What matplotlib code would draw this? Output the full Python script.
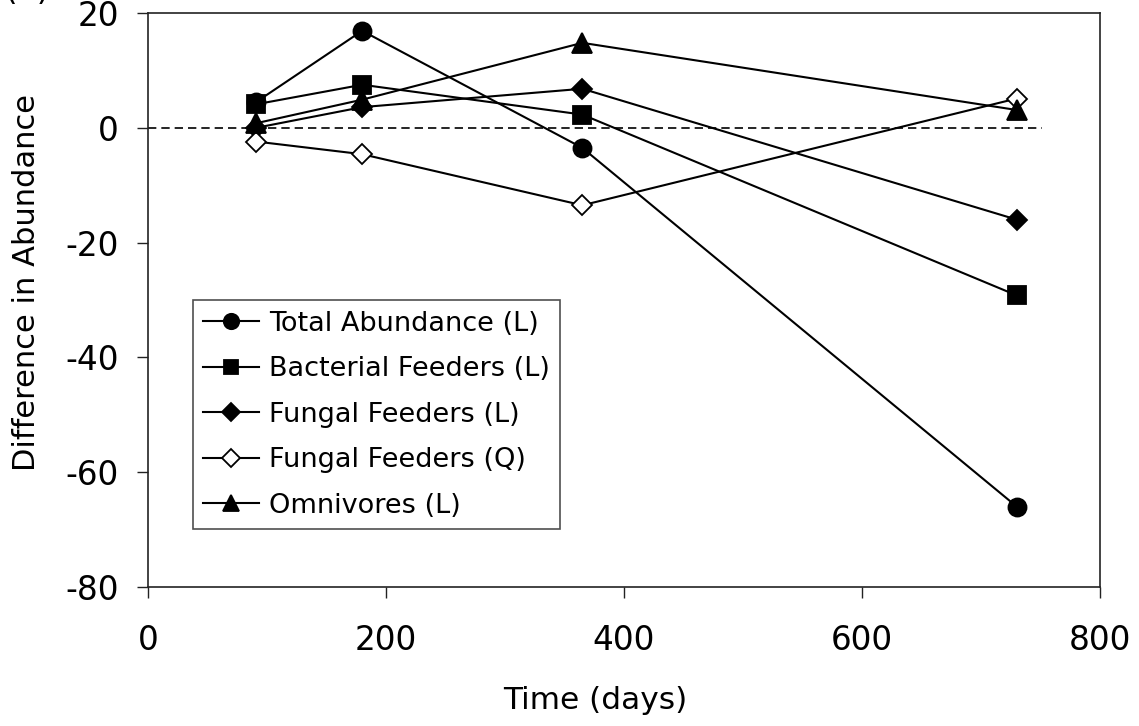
import matplotlib
matplotlib.use("Agg")
import matplotlib.pyplot as plt

plt.rcParams['font.family'] = ['DejaVu Sans']
plt.rcParams['axes.unicode_minus'] = False

# sampling times (days)
days = [91, 180, 365, 730]

total_abund = [4.5, 16.9, -3.5, -66.0]
bact_feeders = [4.1, 7.5, 2.3, -29.2]
fungal_lin = [0.0, 3.6, 6.8, -16.0]
fungal_quad = [-2.4, -4.6, -13.5, 5.1]
omnivores = [0.8, 4.9, 14.8, 3.1]

labels = ["Total Abundance (L)", "Bacterial Feeders (L)", "Fungal Feeders (L)",
          "Fungal Feeders (Q)", "Omnivores (L)"]

# zero reference line span
zero_x = [0, 751]
zero_y = [0, 0]

fig = plt.figure(figsize=(11.39, 7.26), dpi=100)
ax = fig.add_axes([0.1299, 0.1915, 0.8359, 0.7906])

ax.plot(zero_x, zero_y, color='black', lw=1.2, linestyle=(0, (5, 3)), zorder=1)

series = [
    (total_abund, 'o', 13, 'black'),
    (bact_feeders, 's', 12.5, 'black'),
    (fungal_lin, 'D', 10.5, 'black'),
    (fungal_quad, 'D', 10.5, 'white'),
    (omnivores, '^', 14, 'black'),
]
for (vals, mk, ms, fc), lab in zip(series, labels):
    ax.plot(days, vals, color='black', lw=1.5, marker=mk, markersize=ms,
            markerfacecolor=fc, markeredgecolor='black', markeredgewidth=1.3,
            label=lab)

ax.set_xlim(0, 800)
ax.set_ylim(-80, 20)
ax.set_xticks([0, 200, 400, 600, 800])
ax.set_yticks([-80, -60, -40, -20, 0, 20])

for sp in ax.spines.values():
    sp.set_color('#222222')
    sp.set_linewidth(1.2)

ax.tick_params(axis='both', direction='out', length=8, width=1, color='#222222',
               labelsize=23.5)
ax.tick_params(axis='y', pad=13)
ax.tick_params(axis='x', pad=19)

ax.set_xlabel("Time (days)", fontsize=22.5, va='center')
ax.set_ylabel("Difference in Abundance", fontsize=22, va='center')
ax.xaxis.set_label_coords(0.47, -0.197)
ax.yaxis.set_label_coords(-0.128, 0.53)

leg = ax.legend(loc='lower left', bbox_to_anchor=(0.047, 0.101), borderaxespad=0,
                fontsize=19.5, frameon=True, fancybox=False, edgecolor='#222222',
                handlelength=2.05, handletextpad=0.38, labelspacing=0.72,
                borderpad=0.38, markerscale=0.85)
leg.get_frame().set_linewidth(1.2)

# panel letter, mostly above the top edge
fig.text(0.004, 1.0, "(a)", fontsize=23.5, va='baseline', ha='left')

fig.savefig("out.png", dpi=100)
